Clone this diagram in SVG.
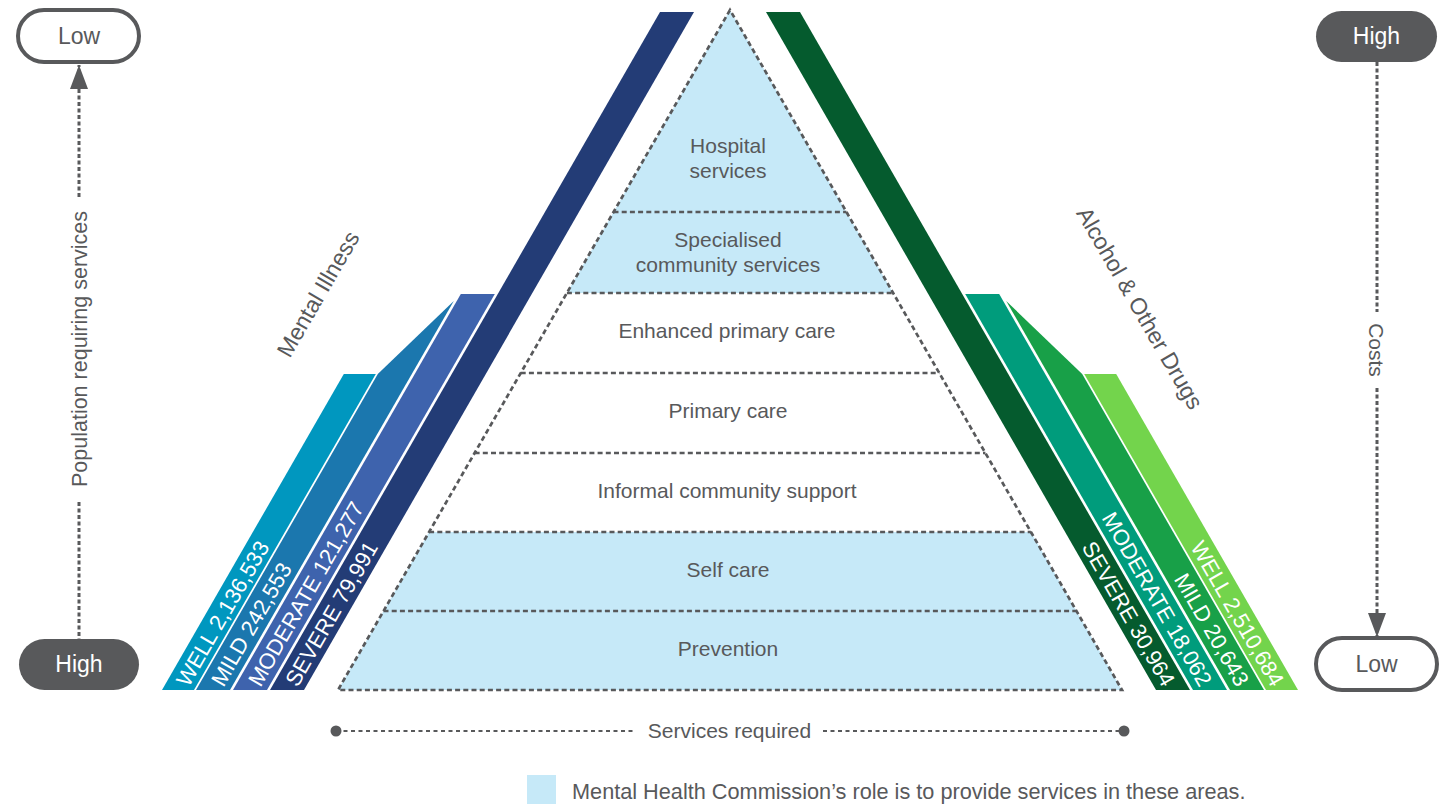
<svg xmlns="http://www.w3.org/2000/svg" width="1443" height="805" viewBox="0 0 1443 805">
<defs>
<style>
.t{font-family:"Liberation Sans",Arial,sans-serif;fill:#58595B;}
.lvl{font-size:21px;text-anchor:middle;}
.bar{font-family:"Liberation Sans",Arial,sans-serif;fill:#FFFFFF;font-size:22px;}
.dash{fill:none;stroke:#58595B;stroke-width:2.7;stroke-dasharray:5 3.2;}
.axis{fill:none;stroke:#58595B;stroke-width:3;stroke-dasharray:4 2.5;}
.hl{fill:none;stroke:#58595B;stroke-width:2;stroke-dasharray:4 3.5;}
.pillo{fill:#FFFFFF;stroke:#58595B;stroke-width:4;}
.pillf{fill:#58595B;}
.ptw{font-family:"Liberation Sans",Arial,sans-serif;font-size:23px;fill:#FFFFFF;text-anchor:middle;}
.ptg{font-family:"Liberation Sans",Arial,sans-serif;font-size:23px;fill:#58595B;text-anchor:middle;}
.blue{fill:#C6E9F8;}
</style>
<marker id="arr" viewBox="0 0 24 18" refX="24" refY="9" markerWidth="24" markerHeight="18" markerUnits="userSpaceOnUse" orient="auto">
<path d="M0,0 L24,9 L0,18 Z" fill="#58595B"/>
</marker>
</defs>

<g id="pyramid">
<polygon class="blue" points="730,10 566.9,293 893.1,293"/>
<polygon class="blue" points="429.1,532 1030.9,532 1122,690 338,690"/>
<path class="dash" d="M730,10 L338,690 L1122,690 Z"/>
<path class="dash" d="M613.5,212 H846.5 M566.9,293 H893.1 M520.7,373 H939.3 M474.6,453 H985.4 M429.1,532 H1030.9 M383.5,611 H1076.5"/>
</g>

<g id="level-hospital"><text class="t lvl" x="728" y="153">Hospital</text><text class="t lvl" x="728" y="178">services</text></g>
<g id="level-specialised"><text class="t lvl" x="728" y="247">Specialised</text><text class="t lvl" x="728" y="272">community services</text></g>
<g id="level-enhanced"><text class="t lvl" x="727" y="338">Enhanced primary care</text></g>
<g id="level-primary"><text class="t lvl" x="728" y="418">Primary care</text></g>
<g id="level-informal"><text class="t lvl" x="727" y="498">Informal community support</text></g>
<g id="level-selfcare"><text class="t lvl" x="728" y="577">Self care</text></g>
<g id="level-prevention"><text class="t lvl" x="728" y="656">Prevention</text></g>

<g id="mental-illness">
<polygon fill="#0097BF" points="343.8,374 375.8,374 194,690 162,690"/>
<polygon fill="#1B77AE" points="377.8,374 453.8,301 230,690 196,690"/>
<polygon fill="#3E63AD" points="460.8,294 494.8,294 267,690 233,690"/>
<polygon fill="#233C76" points="660,12 694,12 304,690 270,690"/>
<text class="bar" transform="translate(188.5,688) rotate(-60)">WELL 2,136,533</text>
<text class="bar" transform="translate(223.4,688) rotate(-60)">MILD 242,553</text>
<text class="bar" transform="translate(260.4,688) rotate(-60)">MODERATE 121,277</text>
<text class="bar" transform="translate(297.4,688) rotate(-60)">SEVERE 79,991</text>
<text class="t" font-size="23" text-anchor="middle" transform="translate(325,298) rotate(-60)">Mental Illness</text>
</g>

<g id="alcohol-drugs">
<polygon fill="#73D44C" points="1084.2,374 1116.2,374 1298,690 1266,690"/>
<polygon fill="#18A048" points="1082.2,374 1006.2,301 1230,690 1264,690"/>
<polygon fill="#009C7C" points="965.2,294 999.2,294 1227,690 1193,690"/>
<polygon fill="#055B2E" points="766,12 800,12 1190,690 1156,690"/>
<text class="bar" text-anchor="end" transform="translate(1271.5,688) rotate(60)">WELL 2,510,684</text>
<text class="bar" text-anchor="end" transform="translate(1236.6,688) rotate(60)">MILD 20,643</text>
<text class="bar" text-anchor="end" transform="translate(1199.6,688) rotate(60)">MODERATE 18,062</text>
<text class="bar" text-anchor="end" transform="translate(1162.6,688) rotate(60)">SEVERE 30,964</text>
<text class="t" font-size="23" text-anchor="middle" transform="translate(1133,312) rotate(60)">Alcohol &amp; Other Drugs</text>
</g>

<g id="connectors">
<line class="axis" x1="79" y1="197" x2="79" y2="65" marker-end="url(#arr)"/>
<line class="axis" x1="79" y1="502" x2="79" y2="639"/>
<line class="axis" x1="1377" y1="62" x2="1377" y2="312"/>
<line class="axis" x1="1377" y1="388" x2="1377" y2="637" marker-end="url(#arr)"/>
<line class="hl" x1="336" y1="731" x2="636" y2="731"/>
<line class="hl" x1="823" y1="731" x2="1124" y2="731"/>
<circle cx="336" cy="731" r="5.5" fill="#58595B"/>
<circle cx="1124" cy="731" r="5.5" fill="#58595B"/>
</g>

<g id="left-low"><rect class="pillo" x="18" y="10" width="121" height="52" rx="26"/><text class="ptg" x="79" y="44">Low</text></g>
<g id="left-high"><rect class="pillf" x="19" y="639" width="120" height="51" rx="25.5"/><text class="ptw" x="79" y="672">High</text></g>
<g id="right-high"><rect class="pillf" x="1316" y="11" width="121" height="51" rx="25.5"/><text class="ptw" x="1376.5" y="44">High</text></g>
<g id="right-low"><rect class="pillo" x="1316" y="638" width="121" height="52" rx="26"/><text class="ptg" x="1376.5" y="672">Low</text></g>

<g id="axis-labels">
<text class="t" font-size="21.5" text-anchor="middle" transform="translate(87,349) rotate(-90)">Population requiring services</text>
<text class="t" font-size="21" text-anchor="middle" transform="translate(1369,350) rotate(90)">Costs</text>
<text class="t" font-size="21" text-anchor="middle" x="729.5" y="738">Services required</text>
</g>

<g id="legend">
<rect class="blue" x="527" y="775" width="29" height="29"/>
<text class="t" font-size="21.7" x="572" y="799">Mental Health Commission’s role is to provide services in these areas.</text>
</g>
</svg>
